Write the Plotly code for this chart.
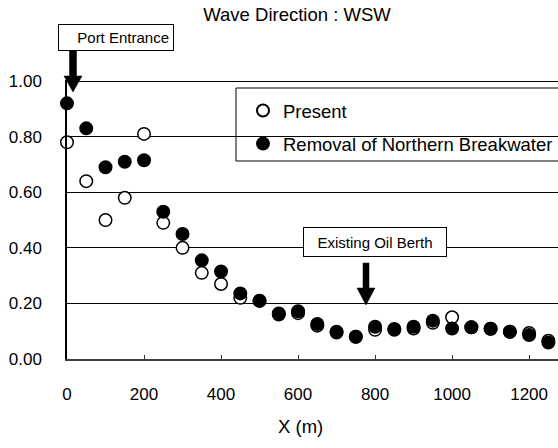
import plotly.graph_objects as go

# Wave height ratio along the channel, wave direction WSW
x_m = [0, 50, 100, 150, 200, 250, 300, 350, 400, 450, 500, 550, 600,
       650, 700, 750, 800, 850, 900, 950, 1000, 1050, 1100, 1150, 1200, 1250]
present = [0.78, 0.64, 0.50, 0.58, 0.81, 0.49, 0.40, 0.31, 0.27, 0.22, 0.21, 0.16, 0.165,
           0.12, 0.095, 0.08, 0.105, 0.105, 0.11, 0.13, 0.15, 0.114, 0.109, 0.098, 0.094, 0.066]
removal = [0.92, 0.83, 0.69, 0.71, 0.715, 0.53, 0.45, 0.355, 0.315, 0.236, 0.209, 0.164, 0.172,
           0.126, 0.098, 0.080, 0.116, 0.108, 0.116, 0.138, 0.110, 0.114, 0.109, 0.098, 0.086, 0.059]
x_ticks = [0, 200, 400, 600, 800, 1000, 1200]
y_ticks = [0.0, 0.2, 0.4, 0.6, 0.8, 1.0]

W, H = 558, 448
L, R, T, B = 67, 0, 80, 89
FONT = "Liberation Sans, Arial, sans-serif"


def px(xp):
    return (xp - L) / (W - L - R)


def py(yp):
    return (H - B - yp) / (H - T - B)


fig = go.Figure()
fig.add_trace(go.Scatter(
    x=x_m, y=present, mode="markers", name="Present", cliponaxis=False,
    marker=dict(size=12.5, color="white", line=dict(color="black", width=1.5)),
))
fig.add_trace(go.Scatter(
    x=x_m, y=removal, mode="markers", name="Removal of Northern Breakwater", cliponaxis=False,
    marker=dict(size=12.5, color="black", line=dict(color="black", width=1.5)),
))


def arrow(cx, top, base, tip, shaft_half, head_half):
    pts = [(cx - shaft_half, top), (cx + shaft_half, top), (cx + shaft_half, base),
           (cx + head_half, base), (cx, tip), (cx - head_half, base), (cx - shaft_half, base)]
    path = "M " + " L ".join(f"{px(a):.5f},{py(b):.5f}" for a, b in pts) + " Z"
    return dict(type="path", xref="paper", yref="paper", path=path,
                fillcolor="black", line=dict(color="black", width=0.5), layer="above")


shapes = [
    # legend frame, running off the right edge of the page
    dict(type="rect", xref="paper", yref="paper", x0=px(236), x1=px(575),
         y0=py(161), y1=py(88), fillcolor="white",
         line=dict(color="black", width=1), layer="between"),
    arrow(73, 51, 76, 92, 3.5, 9),
    arrow(366, 263, 288, 305, 3, 9),
]

annotations = [
    dict(text="Port Entrance", xref="paper", yref="paper", x=px(116), y=py(37.5),
         xanchor="center", yanchor="middle", showarrow=False, align="right",
         width=106, height=17, borderpad=4, borderwidth=1, bordercolor="black",
         bgcolor="white", font=dict(family=FONT, size=15, color="black")),
    dict(text="Existing Oil Berth", xref="paper", yref="paper", x=px(375), y=py(242),
         xanchor="center", yanchor="middle", showarrow=False, align="center",
         width=134, height=20, borderpad=4, borderwidth=1, bordercolor="black",
         bgcolor="white", font=dict(family=FONT, size=15, color="black")),
    dict(text="X (m)", xref="paper", yref="paper", x=px(300), y=py(426),
         xanchor="center", yanchor="middle", showarrow=False,
         font=dict(family=FONT, size=18.5, color="black")),
]

fig.update_layout(
    width=W, height=H,
    margin=dict(l=L, r=R, t=T, b=B),
    paper_bgcolor="white", plot_bgcolor="white",
    font=dict(family=FONT, size=17, color="black"),
    title=dict(text="Wave Direction : WSW", x=297 / W, xanchor="center",
               y=1 - 15 / H, yanchor="middle", font=dict(family=FONT, size=18.5, color="black")),
    showlegend=True,
    legend=dict(x=px(243), y=py(92), xanchor="left", yanchor="top",
                bgcolor="rgba(0,0,0,0)", borderwidth=0,
                font=dict(family=FONT, size=18.5, color="black"),
                itemsizing="constant", tracegroupgap=6, traceorder="grouped"),
    xaxis=dict(range=[0, 1275], tickvals=x_ticks, ticks="inside", ticklen=4,
               tickwidth=1, tickcolor="#333333", showgrid=False, zeroline=False,
               showline=True, linecolor="#404040", linewidth=2,
               ticklabelstandoff=19, tickfont=dict(size=17)),
    yaxis=dict(range=[0, 1.004], tickvals=y_ticks, tickformat=".2f", ticks="",
               showgrid=True, gridcolor="black", gridwidth=1, zeroline=False,
               showline=True, linecolor="black", linewidth=1.5,
               ticklabelstandoff=20, tickfont=dict(size=17)),
    shapes=shapes,
    annotations=annotations,
)
fig.data[0].legendgroup = "a"
fig.data[1].legendgroup = "b"

fig.write_html("out.html")
